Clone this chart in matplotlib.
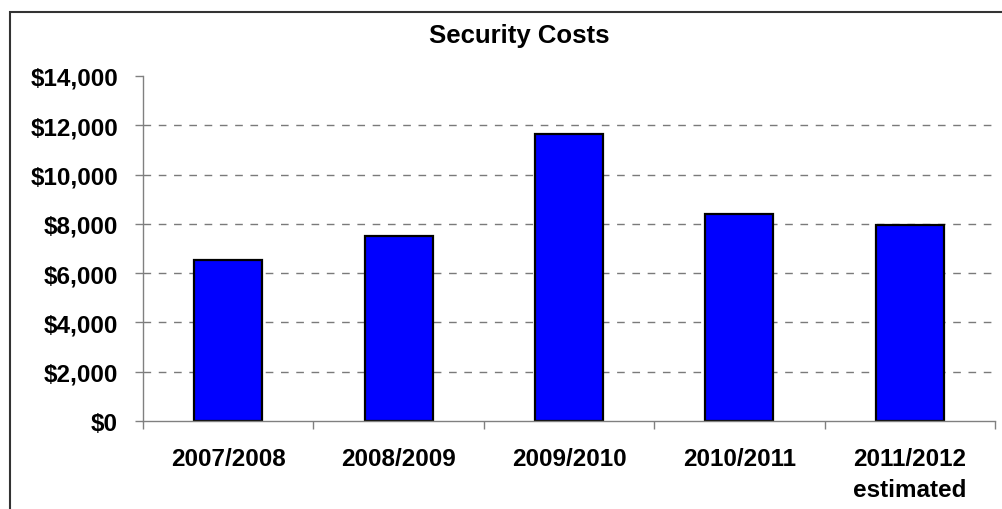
import matplotlib
matplotlib.use("Agg")
import matplotlib.pyplot as plt
from matplotlib.patches import Rectangle
from matplotlib.ticker import FuncFormatter, FixedLocator

years = ["2007/2008", "2008/2009", "2009/2010", "2010/2011", "2011/2012\nestimated"]
costs = [6550, 7500, 11650, 8400, 7950]
y_ticks = [0, 2000, 4000, 6000, 8000, 10000, 12000, 14000]

plt.rcParams['font.family'] = ['Liberation Sans', 'DejaVu Sans']
plt.rcParams['font.weight'] = 'bold'

W, H = 1002, 510
fig = plt.figure(figsize=(W / 100, H / 100), dpi=100)
ax = fig.add_axes([143 / W, (H - 422) / H, (995 - 143) / W, (422 - 77) / H])

x = list(range(len(years)))
ax.bar(x, costs, width=0.4, color='#0000FF', edgecolor='black', linewidth=1.6, zorder=3)

ax.set_xlim(-0.5, len(years) - 0.5)
ax.set_ylim(0, 14000)
ax.set_yticks(y_ticks)
ax.yaxis.set_major_formatter(FuncFormatter(lambda v, p: "${:,.0f}".format(v)))

# gridlines everywhere except the top value
for v in y_ticks[1:-1]:
    ax.axhline(v, color='#7a7a7a', linewidth=1, dashes=(5.5, 5.5), zorder=1)

ax.set_xticks(x)
ax.set_xticklabels(years, fontsize=17.5, fontweight='bold', linespacing=1.45)
ax.xaxis.set_minor_locator(FixedLocator([i - 0.5 for i in range(len(years) + 1)]))
ax.tick_params(axis='x', which='major', length=0, pad=19)
ax.tick_params(axis='x', which='minor', length=6, width=1, color='#808080', direction='out')
ax.tick_params(axis='y', length=6, width=1, color='#808080', pad=12, labelsize=17.5)
for lbl in ax.get_yticklabels():
    lbl.set_fontweight('bold')

for side in ['top', 'right']:
    ax.spines[side].set_visible(False)
for side in ['left', 'bottom']:
    ax.spines[side].set_color('#808080')
    ax.spines[side].set_linewidth(1)
    ax.spines[side].set_zorder(4)

fig.text(519.5 / W, 1 - 36 / H, "Security Costs", ha='center', va='center',
         fontsize=18.5, fontweight='bold')

# outer chart border (runs off the right and bottom edges)
fig.add_artist(Rectangle((10 / W, -0.2), 1.2, 1.2 - 13 / H, transform=fig.transFigure,
                         fill=False, edgecolor='#333333', linewidth=1.5))

fig.savefig("out.png", dpi=100)
